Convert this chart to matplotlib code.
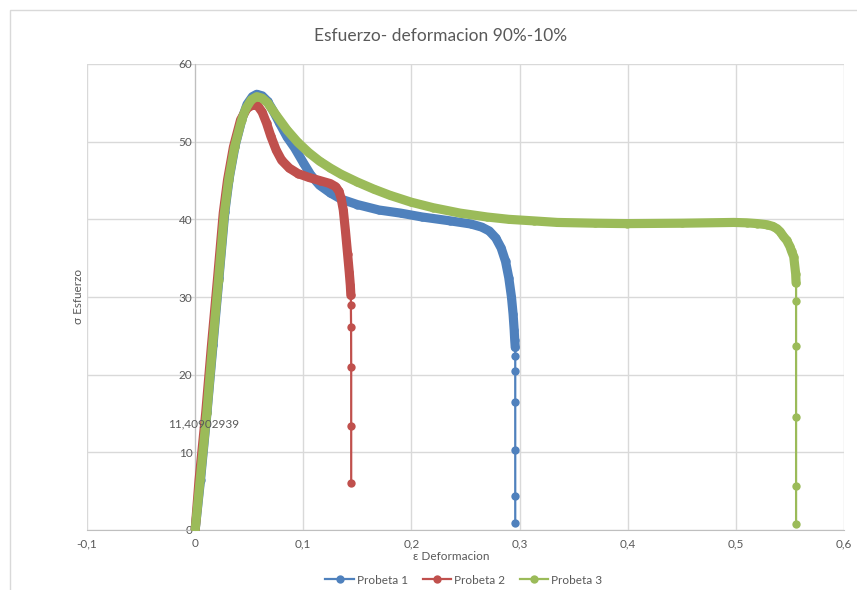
import matplotlib
matplotlib.use("Agg")
import matplotlib.pyplot as plt
from matplotlib.patches import Rectangle
from matplotlib.ticker import FuncFormatter

# Strain (ε) and stress (σ) readings for each specimen
p1_eps = [0.0, 0.005, 0.011, 0.0165, 0.022, 0.0275, 0.0315, 0.037, 0.0435, 0.048, 0.053,
          0.057, 0.062, 0.067, 0.072, 0.078, 0.085, 0.092, 0.1, 0.107, 0.115, 0.125,
          0.135, 0.15, 0.17, 0.19, 0.21, 0.236, 0.255, 0.265, 0.272, 0.278, 0.283,
          0.287, 0.29, 0.2925, 0.294, 0.295, 0.2955,
          0.296, 0.296, 0.296, 0.296, 0.296, 0.296, 0.296]
p1_sig = [0.0, 6.5, 15.2, 23.8, 32.4, 41.0, 45.3, 49.5, 53.0, 54.8, 55.8,
          56.1, 55.9, 55.2, 54.0, 52.4, 50.6, 49.2, 47.3, 45.7, 44.4, 43.4,
          42.6, 41.9, 41.2, 40.8, 40.3, 39.8, 39.4, 39.0, 38.5, 37.6, 36.3,
          34.6, 32.5, 30.0, 27.8, 25.8, 24.5,
          23.5, 22.4, 20.5, 16.5, 10.3, 4.4, 0.9]

p2_eps = [0.0, 0.0036, 0.0098, 0.015, 0.0206, 0.026, 0.030, 0.0354, 0.042, 0.048, 0.054,
          0.058, 0.062, 0.066, 0.07, 0.075, 0.08, 0.087, 0.095, 0.105, 0.115, 0.125,
          0.13, 0.133, 0.135, 0.137, 0.139, 0.141, 0.1425, 0.1435,
          0.144, 0.144, 0.1442, 0.1443, 0.1443, 0.1443]
p2_sig = [0.0, 6.4, 15.1, 23.6, 32.2, 40.8, 45.1, 49.3, 52.8, 54.3, 54.8,
          54.6, 53.8, 52.4, 50.7, 48.9, 47.6, 46.6, 45.9, 45.4, 45.0, 44.6,
          44.2, 43.6, 42.7, 41.2, 38.5, 35.5, 33.2, 31.5,
          30.2, 29.0, 26.2, 21.0, 13.4, 6.05]

p3_eps = [0.0, 0.0046, 0.0108, 0.016, 0.0216, 0.027, 0.031, 0.0364, 0.043, 0.047, 0.052,
          0.057, 0.062, 0.067, 0.075, 0.085, 0.095, 0.105, 0.115, 0.125, 0.135, 0.15,
          0.165, 0.18, 0.2, 0.22, 0.245, 0.27, 0.29, 0.313, 0.335, 0.37, 0.399, 0.45,
          0.498, 0.51, 0.52, 0.529, 0.534, 0.538, 0.541, 0.544, 0.547, 0.55, 0.5515,
          0.5535, 0.5553,
          0.5557, 0.5557, 0.5557, 0.5557, 0.5557, 0.5557]
p3_sig = [0.0, 6.4, 15.1, 23.6, 32.2, 40.8, 45.1, 49.3, 52.8, 54.3, 55.4,
          55.8, 55.6, 55.0, 53.4, 51.5, 49.9, 48.6, 47.5, 46.6, 45.8, 44.8,
          43.9, 43.1, 42.2, 41.5, 40.8, 40.3, 40.0, 39.8, 39.6, 39.5, 39.45, 39.5,
          39.6, 39.55, 39.45, 39.3, 39.1, 38.8, 38.4, 37.8, 37.3, 36.5, 35.9,
          35.2, 33.0,
          31.8, 29.5, 23.7, 14.5, 5.7, 0.8]

series_names = ["Probeta 1", "Probeta 2", "Probeta 3"]
# number of widely spaced readings at the end of each series (after rupture)
sparse_tail = [7, 6, 6]

label_value = 11.40902939

x_ticks = [-0.1, 0.0, 0.1, 0.2, 0.3, 0.4, 0.5, 0.6]
y_ticks = [0, 10, 20, 30, 40, 50, 60]

colors = ["#4F81BD", "#C0504D", "#9BBB59"]
text_gray = "#595959"
grid_gray = "#D9D9D9"
FONT = ["Lato", "DejaVu Sans"]

plt.rcParams["font.family"] = FONT

W, H, DPI = 857, 590, 100
fig = plt.figure(figsize=(W / DPI, H / DPI), dpi=DPI)

# chart-area frame
fig.patches.append(Rectangle((10 / W, -0.5), 2.0, 1.5 - 10 / H, transform=fig.transFigure,
                             fill=False, edgecolor=grid_gray, linewidth=1.0, zorder=0))

ax = fig.add_axes([87 / W, 1 - 530 / H, 757 / W, 466 / H])
ax.set_xlim(x_ticks[0], x_ticks[-1])
ax.set_ylim(y_ticks[0], y_ticks[-1])
ax.set_xticks(x_ticks)
ax.set_yticks(y_ticks)

ax.grid(True, color=grid_gray, linewidth=1.0, zorder=0)
ax.set_axisbelow(True)
for side in ["top", "right"]:
    ax.spines[side].set_visible(False)
ax.spines["left"].set_position(("data", 0))
ax.spines["left"].set_color("#BFBFBF")
ax.spines["bottom"].set_color("#BFBFBF")
ax.spines["left"].set_zorder(1)
ax.tick_params(axis="both", length=0, labelsize=8.5, labelcolor=text_gray, pad=2)
ax.tick_params(axis="x", pad=6)

def comma_fmt(v, _pos):
    s = f"{v:g}".replace(".", ",")
    return "0" if s in ("0", "-0") else s

ax.xaxis.set_major_formatter(FuncFormatter(comma_fmt))
ax.yaxis.set_major_formatter(FuncFormatter(comma_fmt))

all_eps = [p1_eps, p2_eps, p3_eps]
all_sig = [p1_sig, p2_sig, p3_sig]
handles = []
for i, (xs, ys) in enumerate(zip(all_eps, all_sig)):
    n_dense = len(xs) - sparse_tail[i]
    # closely spaced readings merge into a solid band of markers
    ax.plot(xs[:n_dense + 1], ys[:n_dense + 1], color=colors[i], linewidth=6.6,
            solid_capstyle="round", solid_joinstyle="round", zorder=3 + i)
    h, = ax.plot(xs, ys, color=colors[i], linewidth=1.6, marker="o", markersize=6,
                 markeredgewidth=0, zorder=3 + i, label=series_names[i])
    handles.append(h)

ax.annotate(f"{label_value:.8f}".replace(".", ","), xy=(0, label_value),
            xytext=(-27, 17), textcoords="offset pixels", ha="left", va="center",
            fontsize=8.5, color=text_gray, zorder=10)

fig.text(441 / W, 1 - 36 / H, "Esfuerzo- deformacion 90%-10%", ha="center", va="center",
         fontsize=12.5, color=text_gray)
fig.text(451 / W, 1 - 556 / H, "ε Deformacion", ha="center", va="center",
         fontsize=8.5, color=text_gray)
fig.text(78 / W, 1 - 296 / H, "σ Esfuerzo", ha="center", va="center", rotation=90,
         fontsize=8.5, color=text_gray)

fig.legend(handles=handles, loc="center", bbox_to_anchor=(464 / W, 1 - 580 / H), ncol=3,
           frameon=False, fontsize=8.5, labelcolor=text_gray, handlelength=2.4,
           handletextpad=0.3, columnspacing=1.2, borderpad=0)

fig.savefig("out.png", dpi=DPI)
